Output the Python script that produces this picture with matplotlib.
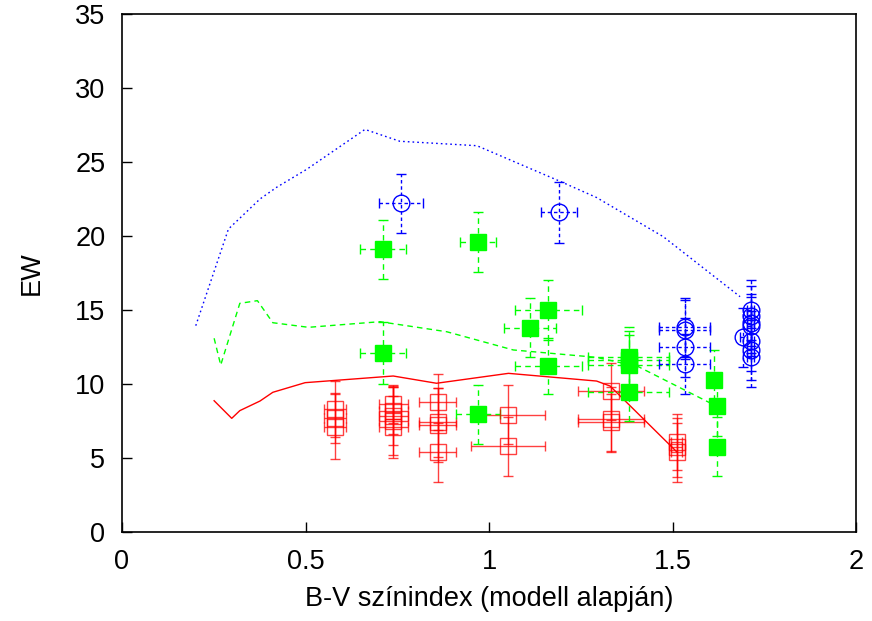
import matplotlib
matplotlib.use("Agg")
import matplotlib.pyplot as plt
import numpy as np

plt.rcParams['font.family'] = ['Liberation Sans', 'DejaVu Sans']

# model curves
red_line_x = [0.251, 0.299, 0.321, 0.376, 0.411, 0.499, 0.739, 0.857, 1.053, 1.293, 1.33, 1.511]
red_line_y = [8.87, 7.68, 8.2, 8.85, 9.44, 10.09, 10.54, 10.05, 10.72, 10.2, 9.86, 5.43]

green_line_x = [0.251, 0.269, 0.321, 0.369, 0.411, 0.508, 0.703, 0.885, 1.066, 1.293, 1.407, 1.620]
green_line_y = [13.09, 11.28, 15.45, 15.63, 14.14, 13.83, 14.21, 13.53, 12.3, 11.8, 11.17, 8.5]

blue_line_x = [0.201, 0.290, 0.376, 0.422, 0.503, 0.662, 0.757, 0.967, 1.193, 1.293, 1.475, 1.684]
blue_line_y = [13.94, 20.47, 22.5, 23.3, 24.5, 27.2, 26.4, 26.1, 23.7, 22.6, 19.95, 15.9]

# measured points
red_x = [0.580, 0.580, 0.580,
         0.739, 0.739, 0.739, 0.739, 0.739,
         0.860, 0.860, 0.860, 0.860,
         1.052, 1.052,
         1.332, 1.332, 1.332,
         1.511, 1.511, 1.511]
red_y = [8.3, 7.7, 7.1,
         8.65, 8.2, 7.86, 7.52, 7.07,
         8.76, 7.4, 7.2, 5.38,
         7.93, 5.79,
         9.5, 7.63, 7.4,
         6.06, 5.72, 5.38]
red_xerr = [0.03, 0.03, 0.03,
            0.04, 0.04, 0.04, 0.04, 0.04,
            0.05, 0.05, 0.05, 0.05,
            0.1, 0.1,
            0.09, 0.09, 0.09,
            0.015, 0.015, 0.015]
red_yerr = [1.9, 1.7, 2.2,
            1.3, 1.6, 2.0, 2.3, 2.1,
            1.9, 2.3, 2.5, 2.0,
            2.0, 2.0,
            1.9, 2.2, 1.9,
            1.9, 2.0, 2.0]

green_x = [0.711, 0.970, 0.711, 1.162, 1.112, 1.162, 0.970,
           1.381, 1.381, 1.381, 1.381, 1.613, 1.620, 1.620]
green_y = [19.1, 19.6, 12.1, 15.0, 13.8, 11.2, 7.95,
           11.85, 11.6, 11.3, 9.48, 10.27, 8.5, 5.76]
green_xerr = [0.062, 0.05, 0.062, 0.09, 0.07, 0.09, 0.06,
              0.11, 0.11, 0.11, 0.11, 0.0, 0.0, 0.0]
green_yerr = [2.0, 2.0, 2.1, 2.0, 2.0, 1.9, 2.0,
              2.0, 2.0, 2.0, 2.0, 2.0, 2.0, 2.0]

blue_x = [0.760, 1.191, 1.533, 1.533, 1.533, 1.533,
          1.713, 1.713, 1.713, 1.713, 1.713, 1.713, 1.713, 1.693]
blue_y = [22.2, 21.6, 13.83, 13.67, 12.48, 11.35,
          15.0, 14.6, 14.1, 13.9, 12.9, 12.3, 11.8, 13.15]
blue_xerr = [0.06, 0.05, 0.07, 0.07, 0.07, 0.07,
             0.01, 0.01, 0.01, 0.01, 0.01, 0.01, 0.01, 0.01]
blue_yerr = [2.0, 2.05, 2.0, 2.0, 2.0, 2.0,
             2.0, 2.0, 2.0, 2.0, 2.0, 2.0, 2.0, 2.0]

fig = plt.figure(figsize=(8.72, 6.21), dpi=100)
ax = fig.add_axes([0.1399, 0.1433, 0.8418, 0.8342])

ax.plot(red_line_x, red_line_y, color="#ff0000", lw=1.0)
ax.plot(green_line_x, green_line_y, color="#00ff00", lw=1.0, linestyle=(0, (4, 3)))
ax.plot(blue_line_x, blue_line_y, color="#0000ff", lw=1.0, linestyle=(0, (1.2, 2.2)))

eb = ax.errorbar(red_x, red_y, xerr=red_xerr, yerr=red_yerr, fmt='s', ms=12,
                 mfc='none', mec='#ff0000', mew=1.0, ecolor='#ff0000',
                 elinewidth=1.0, capsize=3.6, alpha=0.75)

eb = ax.errorbar(green_x, green_y, xerr=green_xerr, yerr=green_yerr, fmt='s', ms=11.5,
                 mfc='#00ff00', mec='#00ff00', ecolor='#00ff00',
                 elinewidth=1.0, capsize=3.6)
for lc in eb[2]:
    lc.set_linestyle((0, (4, 3)))

eb = ax.errorbar(blue_x, blue_y, xerr=blue_xerr, yerr=blue_yerr, fmt='o', ms=12,
                 mfc='none', mec='#0000ff', mew=1.0, ecolor='#0000ff',
                 elinewidth=1.0, capsize=3.6)
for lc in eb[2]:
    lc.set_linestyle((0, (2.5, 2)))

ax.set_xlim(0, 2)
ax.set_ylim(0, 35)
ax.set_xticks([0, 0.5, 1, 1.5, 2])
ax.set_xticklabels(["0", "0.5", "1", "1.5", "2"])
ax.set_yticks(range(0, 36, 5))
ax.tick_params(direction='in', length=7, width=1.0, labelsize=19.5, pad=12)
for s in ax.spines.values():
    s.set_linewidth(1.2)

ax.set_xlabel("B-V színindex (modell alapján)", fontsize=19.5, labelpad=8)
ax.set_ylabel("EW", fontsize=19.5, labelpad=22)

fig.savefig("out.png", dpi=100)
